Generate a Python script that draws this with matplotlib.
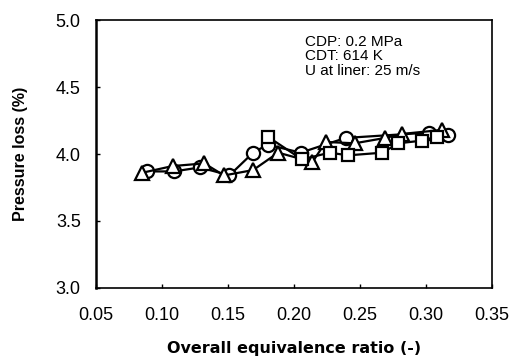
import matplotlib
matplotlib.use("Agg")
import matplotlib.pyplot as plt

plt.rcParams['font.family'] = ['Liberation Sans', 'DejaVu Sans']

# Circles
circ_x = [0.089, 0.109, 0.129, 0.151, 0.169, 0.180, 0.205, 0.239, 0.302, 0.317]
circ_y = [3.87, 3.87, 3.90, 3.84, 4.01, 4.07, 4.01, 4.12, 4.16, 4.14]

# Triangles
tri_x = [0.085, 0.108, 0.132, 0.147, 0.169, 0.188, 0.214, 0.224, 0.246, 0.269, 0.282, 0.312]
tri_y = [3.86, 3.91, 3.93, 3.84, 3.88, 4.01, 3.94, 4.09, 4.08, 4.12, 4.15, 4.18]

# Squares
sq_x = [0.180, 0.206, 0.227, 0.241, 0.267, 0.279, 0.297, 0.308]
sq_y = [4.13, 3.96, 4.01, 3.99, 4.01, 4.08, 4.10, 4.13]

xticks = [0.05, 0.10, 0.15, 0.20, 0.25, 0.30, 0.35]
yticks = [3.0, 3.5, 4.0, 4.5, 5.0]

fig = plt.figure(figsize=(5.12, 3.59), dpi=100)
ax = fig.add_axes([0.1875, 0.198, 0.7735, 0.746])

style = dict(color='black', lw=1.6, markerfacecolor='white',
             markeredgecolor='black', markeredgewidth=1.6)
ax.plot(circ_x, circ_y, marker='o', markersize=9.5, **style)
ax.plot(tri_x, tri_y, marker='^', markersize=10, **style)
ax.plot(sq_x, sq_y, marker='s', markersize=9, **style)

ax.set_xlim(0.05, 0.35)
ax.set_ylim(3.0, 5.0)
ax.set_xticks(xticks)
ax.set_yticks(yticks)
ax.set_xticklabels([f"{v:.2f}" for v in xticks], fontsize=13)
ax.set_yticklabels([f"{v:.1f}" for v in yticks], fontsize=13)
ax.tick_params(direction='in', length=3, width=1)
ax.tick_params(axis='x', pad=14)
ax.tick_params(axis='y', pad=11)
for s in ax.spines.values():
    s.set_linewidth(1.2)
ax.spines['left'].set_linewidth(1.8)

ax.set_xlabel("Overall equivalence ratio (-)", fontsize=11.5, fontweight='bold',
              family='DejaVu Sans', labelpad=12)
ax.set_ylabel("Pressure loss (%)", fontsize=11.5, fontweight='bold', labelpad=20)

ax.text(0.528, 0.945, "CDP: 0.2 MPa\nCDT: 614 K\nU at liner: 25 m/s",
        transform=ax.transAxes, fontsize=11, va='top', ha='left', linespacing=1.05)

fig.savefig("out.png", dpi=100)
